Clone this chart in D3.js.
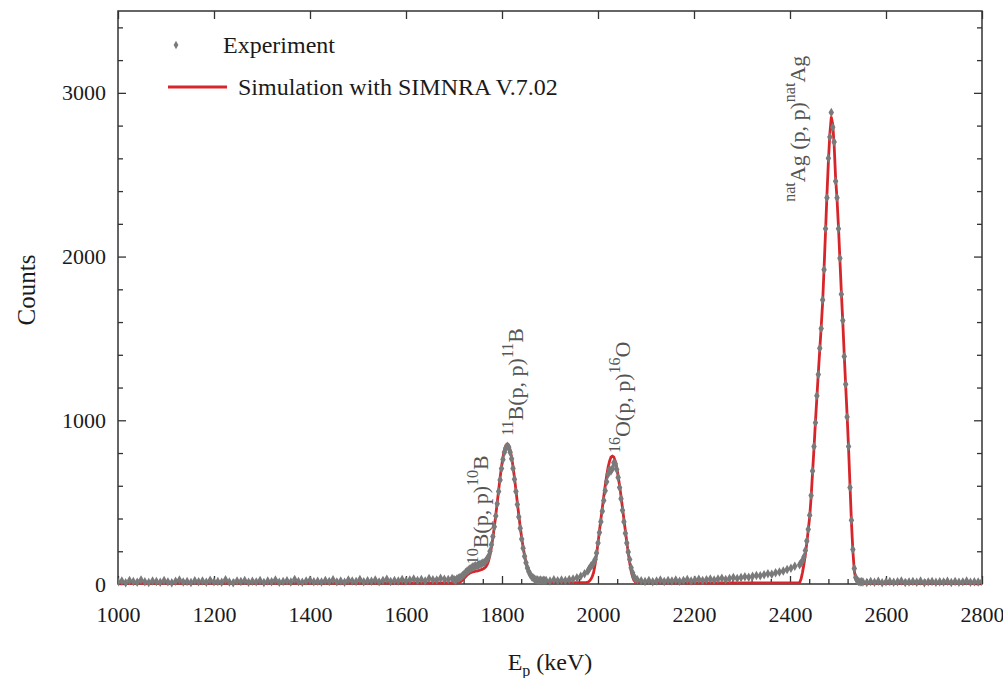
<!DOCTYPE html>
<html>
<head>
<meta charset="utf-8">
<script src="https://cdn.jsdelivr.net/npm/d3@7"></script>
<style>
    body { margin: 0; background: #fff; }
    svg { font-family: 'Liberation Serif', 'Times New Roman', serif; }
</style>
</head>
<body>
<div class="canvas"></div>
<script>
// ---- data ----

const xTicks = [1000, 1200, 1400, 1600, 1800, 2000, 2200, 2400, 2600, 2800];
const yTicks = [0, 1000, 2000, 3000];

// background below the 10B shoulder (experiment)
const lowE = [1000,1008,1016,1024,1032,1040,1048,1056,1064,1072,1080,1088,1096,
    1104,1112,1120,1128,1136,1144,1152,1160,1168,1176,1184,1192,1200,
    1208,1216,1224,1232,1240,1248,1256,1264,1272,1280,1288,1296,1304,
    1312,1320,1328,1336,1344,1352,1360,1368,1376,1384,1392,1400,1408,
    1416,1424,1432,1440,1448,1456,1464,1472,1480,1488,1496,1504,1512,
    1520,1528,1536,1544,1552,1560,1568,1576,1584,1592,1600,1608,1616,
    1624,1632,1640,1648,1656,1664,1672,1680,1688,1696];
const lowExp = [12,18,8,22,15,10,25,14,9,19,16,11,21,
    13,7,17,24,12,15,9,20,14,18,10,23,13,
    16,11,26,12,8,19,15,22,10,17,13,21,9,
    18,14,24,11,16,20,12,27,15,10,19,23,14,
    17,12,22,16,26,13,19,11,24,18,15,28,14,
    20,17,25,13,22,29,16,21,18,27,19,24,31,
    22,28,19,33,26,24,35,29,27,33];

// 10B shoulder + 11B peak
const boronE = [1700,1703,1706,1709,1712,1715,1718,1721,1724,1727,
    1730,1733,1736,1739,1742,1745,1748,1751,1754,1757,
    1760,1763,1766,1769,1772,1775,1778,1781,1784,1787,
    1790,1793,1796,1799,1802,1805,1808,1811,1814,1817,
    1820,1823,1826,1829,1832,1835,1838,1841,1844,1847,
    1850,1853,1856,1859,1862,1865,1868,1871,1874,1877,
    1880,1883,1886,1889];
const boronExp = [28,22,30,35,38,45,52,60,70,78,
    85,92,98,104,108,112,110,116,120,124,
    128,132,140,150,170,200,240,290,350,415,
    490,565,635,705,760,805,830,842,835,805,
    765,705,640,565,485,410,340,275,218,170,
    130,98,75,56,44,36,30,26,24,22,
    25,20,23,21];
const boronSim = [6,6,7,8,11,16,24,34,44,53,
    61,67,71,74,76,78,79,81,85,88,
    91,96,104,118,141,177,224,282,348,420,
    496,573,648,716,774,819,846,856,846,819,
    774,716,648,573,496,420,348,282,224,174,
    133,100,74,54,39,28,21,15,12,10,
    9,8,8,8];

// between 11B and 16O
const gapE = [1892,1900,1908,1916,1924,1932,1940,1948,1956,1964,1972];
const gapExp = [22,18,26,20,24,21,27,30,38,48,62];

// 16O peak
const oxygenE = [1979,1982,1985,1988,1991,1994,1997,2000,2003,2006,
    2009,2012,2015,2018,2021,2024,2027,2030,2033,2036,
    2039,2042,2045,2048,2051,2054,2057,2060,2063,2066,
    2069,2072,2075,2078];
const oxygenExp = [80,95,108,118,130,150,190,250,315,380,
    445,510,570,625,670,700,690,705,740,735,
    700,650,590,520,450,380,310,250,195,150,
    100,68,45,32];
const oxygenSim = [12,18,28,45,72,120,180,250,325,395,
    465,535,600,660,712,750,775,782,775,750,
    712,660,600,535,465,395,325,255,190,130,
    80,45,22,12];

// background with tail before the Ag peak
const tailE = [2082,2090,2098,2106,2114,2122,2130,2138,2146,2154,
    2162,2170,2178,2186,2194,2202,2210,2218,2226,2234,
    2242,2250,2258,2266,2274,2282,2290,2298,2306,2314,
    2322,2330,2338,2346,2354,2362,2370,2378,2386,2394,
    2402,2410];
const tailExp = [26,20,16,22,14,19,24,15,21,18,
    25,17,22,27,19,24,29,21,26,31,
    24,30,35,28,34,39,33,40,45,41,
    48,52,50,57,62,60,68,74,80,88,
    96,108];

// natAg peak
const silverE = [2420,2423,2426,2429,2432,2435,2438,2441,2444,2447,
    2450,2453,2456,2459,2462,2465,2468,2471,2474,2477,
    2480,2483,2486,2489,2492,2495,2498,2501,2504,2507,
    2510,2513,2516,2519,2522,2525,2528,2531,2534,2537,
    2540,2543,2546,2549];
const silverExp = [118,128,142,165,205,262,335,420,540,690,
    840,985,1150,1280,1440,1560,1735,1920,2170,2360,
    2600,2730,2880,2790,2700,2460,2360,2170,1990,1770,
    1610,1390,1220,1020,840,590,390,210,95,40,
    22,15,12,14];
const silverSim = [8,30,70,120,180,250,330,410,530,680,
    830,990,1140,1290,1430,1570,1720,1930,2150,2380,
    2580,2750,2850,2810,2680,2480,2350,2180,1980,1780,
    1600,1400,1210,1030,830,600,380,200,80,30,
    12,7,6,6];

// background above the Ag peak
const highE = [2552,2560,2568,2576,2584,2592,2600,2608,2616,2624,
    2632,2640,2648,2656,2664,2672,2680,2688,2696,2704,
    2712,2720,2728,2736,2744,2752,2760,2768,2776,2784,
    2792,2800];
const highExp = [12,9,15,11,17,8,13,16,10,14,
    19,9,12,15,11,18,8,13,16,10,
    14,12,17,9,15,11,13,18,10,14,
    12,16];

// simulated background (smooth)
const simLowE = [1000, 1250, 1500, 1697];
const simLow = [4, 5, 5, 6];
const simGapE = [1892, 1935, 1976];
const simGap = [8, 8, 10];
const simTailE = [2082, 2250, 2417];
const simTail = [8, 6, 7];
const simHighE = [2552, 2680, 2800];
const simHigh = [5, 5, 5];

const zip = (es, cs) => es.map((e, i) => [e, cs[i]]);

const expPoints = [
    ...zip(lowE, lowExp), ...zip(boronE, boronExp), ...zip(gapE, gapExp),
    ...zip(oxygenE, oxygenExp), ...zip(tailE, tailExp), ...zip(silverE, silverExp),
    ...zip(highE, highExp)
];

const simPoints = [
    ...zip(simLowE, simLow), ...zip(boronE, boronSim), ...zip(simGapE, simGap),
    ...zip(oxygenE, oxygenSim), ...zip(simTailE, simTail), ...zip(silverE, silverSim),
    ...zip(simHighE, simHigh)
];

// peak annotations: [text, superscript?], anchored in data units
const peakLabels = [
    { parts: [['10', 1], ['B(p, p)', 0], ['10', 1], ['B', 0]], at: [1771, 120] },
    { parts: [['11', 1], ['B(p, p)', 0], ['11', 1], ['B', 0]], at: [1844, 905] },
    { parts: [['16', 1], ['O(p, p)', 0], ['16', 1], ['O', 0]], at: [2067, 800] },
    { parts: [['nat', 1], ['Ag (p, p)', 0], ['nat', 1], ['Ag', 0]], at: [2431, 2335] }
];

// ---- chart ----

const dims = { width: 1003, height: 678 };
const plot = { left: 118, right: 982, top: 11, bottom: 584 };

const svg = d3.select('.canvas')
                .append('svg')
                .attr('width', dims.width)
                .attr('height', dims.height);

const x = d3.scaleLinear().domain([1000, 2800]).range([plot.left, plot.right]);
const y = d3.scaleLinear().domain([0, 3500]).range([plot.bottom, plot.top]);

const axisColor = '#333';
const xMinor = d3.range(1000, 2801, 40).filter(v => v % 200 !== 0);
const yMinor = d3.range(0, 3501, 200).filter(v => v % 1000 !== 0);

const styleAxis = (g) => {
    g.select('.domain').remove();
    g.attr('color', axisColor)
        .attr('font-size', 22)
        .attr('font-family', "'Liberation Serif', 'Times New Roman', serif");
    g.selectAll('line').attr('stroke-width', 1.3);
    g.selectAll('text').attr('fill', '#1a1a1a');
};

// bottom
svg.append('g')
    .attr('transform', `translate(0, ${plot.bottom})`)
    .call(d3.axisBottom(x).tickValues(xTicks).tickSize(-8).tickPadding(22).tickFormat(d3.format('d')))
    .call(styleAxis);
svg.append('g')
    .attr('transform', `translate(0, ${plot.bottom})`)
    .call(d3.axisBottom(x).tickValues(xMinor).tickSize(-5).tickFormat(() => ''))
    .call(styleAxis);

// top
svg.append('g')
    .attr('transform', `translate(0, ${plot.top})`)
    .call(d3.axisTop(x).tickValues(xTicks).tickSize(-8).tickFormat(() => ''))
    .call(styleAxis);

// left
svg.append('g')
    .attr('transform', `translate(${plot.left}, 0)`)
    .call(d3.axisLeft(y).tickValues(yTicks).tickSize(-8).tickPadding(12).tickFormat(d3.format('d')))
    .call(styleAxis);
svg.append('g')
    .attr('transform', `translate(${plot.left}, 0)`)
    .call(d3.axisLeft(y).tickValues(yMinor).tickSize(-5).tickFormat(() => ''))
    .call(styleAxis);

// right
svg.append('g')
    .attr('transform', `translate(${plot.right}, 0)`)
    .call(d3.axisRight(y).tickValues(yTicks).tickSize(-8).tickFormat(() => ''))
    .call(styleAxis);
svg.append('g')
    .attr('transform', `translate(${plot.right}, 0)`)
    .call(d3.axisRight(y).tickValues(yMinor).tickSize(-5).tickFormat(() => ''))
    .call(styleAxis);

// frame
svg.append('rect')
    .attr('x', plot.left)
    .attr('y', plot.top)
    .attr('width', plot.right - plot.left)
    .attr('height', plot.bottom - plot.top)
    .attr('fill', 'none')
    .attr('stroke', axisColor)
    .attr('stroke-width', 1.5);

// clip
svg.append('clipPath')
    .attr('id', 'clip')
  .append('rect')
    .attr('x', plot.left)
    .attr('y', plot.top - 4)
    .attr('width', plot.right - plot.left)
    .attr('height', plot.bottom - plot.top + 8);

const graph = svg.append('g').attr('clip-path', 'url(#clip)');

const simLine = d3.line()
                    .x(d => x(d[0]))
                    .y(d => y(d[1]));

graph.append('path')
    .datum(simPoints)
    .attr('d', simLine)
    .attr('fill', 'none')
    .attr('stroke', '#d7262b')
    .attr('stroke-width', 2.8)
    .attr('stroke-linejoin', 'round');

const diamond = d3.symbol().type(d3.symbolDiamond).size(26);

graph.selectAll('path.exp')
    .data(expPoints)
    .enter()
    .append('path')
    .attr('class', 'exp')
    .attr('d', diamond)
    .attr('transform', d => `translate(${x(d[0])}, ${y(d[1])})`)
    .attr('fill', '#7a7a7a');

// legend
const legend = svg.append('g');
legend.append('path')
    .attr('d', d3.symbol().type(d3.symbolDiamond).size(20))
    .attr('transform', 'translate(176, 45)')
    .attr('fill', '#7a7a7a');
legend.append('text')
    .attr('x', 223)
    .attr('y', 53)
    .attr('font-size', 24)
    .attr('fill', '#1a1a1a')
    .text('Experiment');
legend.append('line')
    .attr('x1', 168).attr('x2', 227)
    .attr('y1', 87).attr('y2', 87)
    .attr('stroke', '#d7262b')
    .attr('stroke-width', 2.8);
legend.append('text')
    .attr('x', 238)
    .attr('y', 95)
    .attr('font-size', 24)
    .attr('fill', '#1a1a1a')
    .text('Simulation with SIMNRA V.7.02');

// peak labels
peakLabels.forEach(lab => {
    const t = svg.append('text')
        .attr('transform', `translate(${x(lab.at[0])}, ${y(lab.at[1])}) rotate(-90)`)
        .attr('fill', '#555');
    let shift = 0;
    lab.parts.forEach(([s, sup]) => {
        const target = sup ? -10 : 0;
        t.append('tspan')
            .attr('dy', target - shift)
            .attr('font-size', sup ? 16 : 22)
            .text(s);
        shift = target;
    });
});

// axis titles
const xTitle = svg.append('text')
    .attr('x', (plot.left + plot.right) / 2)
    .attr('y', 670)
    .attr('text-anchor', 'middle')
    .attr('font-size', 24)
    .attr('fill', '#1a1a1a');
xTitle.append('tspan').text('E');
xTitle.append('tspan').attr('dy', 6).attr('font-size', 16).text('p');
xTitle.append('tspan').attr('dy', -6).text(' (keV)');

svg.append('text')
    .attr('transform', 'translate(35, 290) rotate(-90)')
    .attr('text-anchor', 'middle')
    .attr('font-size', 25)
    .attr('fill', '#1a1a1a')
    .text('Counts');
</script>
</body>
</html>
